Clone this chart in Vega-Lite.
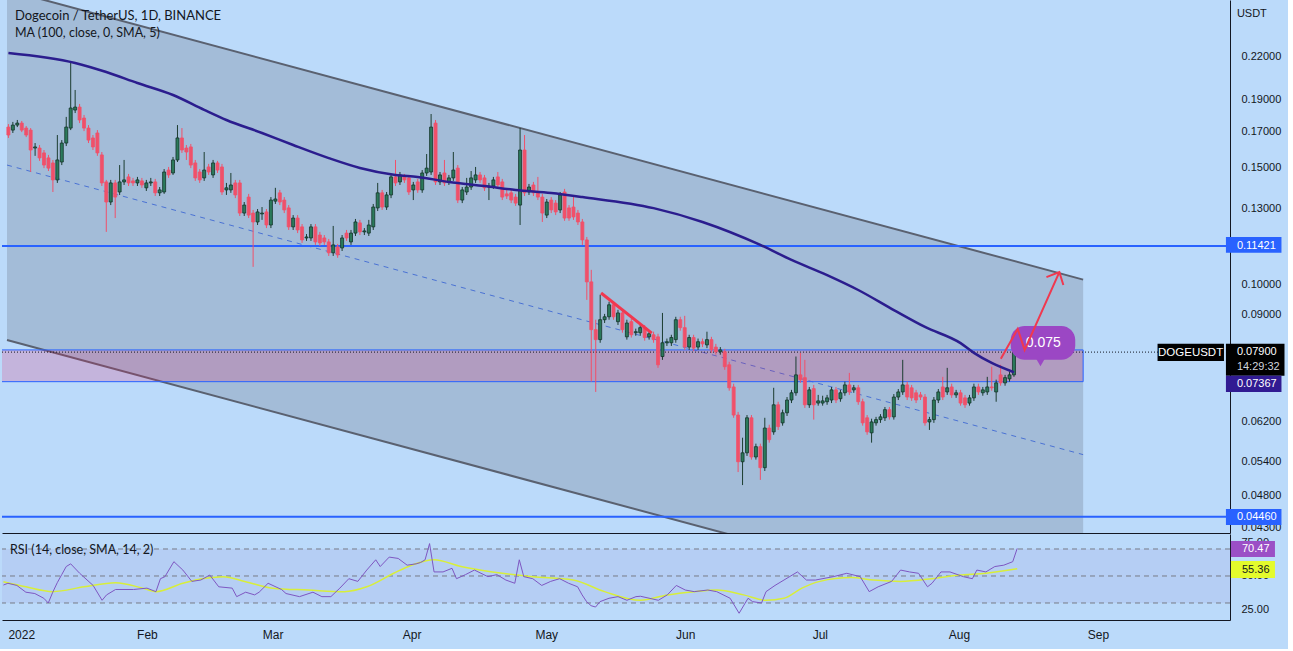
{
  "$schema": "https://vega.github.io/schema/vega-lite/v6.json",
  "background": "#bbdafa",
  "padding": {"left": 0, "top": 0, "right": 3, "bottom": 9},
  "spacing": 1,
  "config": {
    "view": {"stroke": null},
    "font": "Liberation Sans",
    "axis": {"grid": false, "ticks": false, "title": null, "domainColor": "#131722", "domainWidth": 1, "labelColor": "#131722", "labelFont": "Liberation Sans", "labelFontSize": 11, "labelOverlap": false}
  },
  "datasets": {
    "candles": [
      {"date":"2021-12-31","open":0.1725,"high":0.1743,"low":0.1661,"close":0.1678},
      {"date":"2022-01-01","open":0.1707,"high":0.1756,"low":0.1690,"close":0.1737},
      {"date":"2022-01-02","open":0.1737,"high":0.1768,"low":0.1725,"close":0.1749},
      {"date":"2022-01-03","open":0.1749,"high":0.1762,"low":0.1695,"close":0.1707},
      {"date":"2022-01-04","open":0.1719,"high":0.1731,"low":0.1666,"close":0.1678},
      {"date":"2022-01-05","open":0.1707,"high":0.1719,"low":0.1476,"close":0.1593},
      {"date":"2022-01-06","open":0.1604,"high":0.1632,"low":0.1561,"close":0.1610},
      {"date":"2022-01-07","open":0.1604,"high":0.1621,"low":0.1534,"close":0.1550},
      {"date":"2022-01-08","open":0.1577,"high":0.1593,"low":0.1496,"close":0.1512},
      {"date":"2022-01-09","open":0.1550,"high":0.1566,"low":0.1481,"close":0.1496},
      {"date":"2022-01-10","open":0.1523,"high":0.1539,"low":0.1377,"close":0.1436},
      {"date":"2022-01-11","open":0.1436,"high":0.1678,"low":0.1421,"close":0.1539},
      {"date":"2022-01-12","open":0.1528,"high":0.1649,"low":0.1512,"close":0.1632},
      {"date":"2022-01-13","open":0.1632,"high":0.1787,"low":0.1615,"close":0.1725},
      {"date":"2022-01-14","open":0.1719,"high":0.2155,"low":0.1707,"close":0.1843},
      {"date":"2022-01-15","open":0.1830,"high":0.1962,"low":0.1811,"close":0.1849},
      {"date":"2022-01-16","open":0.1849,"high":0.1869,"low":0.1749,"close":0.1768},
      {"date":"2022-01-17","open":0.1780,"high":0.1799,"low":0.1701,"close":0.1719},
      {"date":"2022-01-18","open":0.1719,"high":0.1737,"low":0.1632,"close":0.1649},
      {"date":"2022-01-19","open":0.1661,"high":0.1678,"low":0.1593,"close":0.1610},
      {"date":"2022-01-20","open":0.1690,"high":0.1707,"low":0.1561,"close":0.1577},
      {"date":"2022-01-21","open":0.1566,"high":0.1582,"low":0.1406,"close":0.1421},
      {"date":"2022-01-22","open":0.1426,"high":0.1436,"low":0.1199,"close":0.1330},
      {"date":"2022-01-23","open":0.1330,"high":0.1436,"low":0.1316,"close":0.1421},
      {"date":"2022-01-24","open":0.1421,"high":0.1436,"low":0.1258,"close":0.1353},
      {"date":"2022-01-25","open":0.1377,"high":0.1512,"low":0.1363,"close":0.1426},
      {"date":"2022-01-26","open":0.1426,"high":0.1539,"low":0.1411,"close":0.1436},
      {"date":"2022-01-27","open":0.1451,"high":0.1466,"low":0.1406,"close":0.1421},
      {"date":"2022-01-28","open":0.1431,"high":0.1446,"low":0.1406,"close":0.1421},
      {"date":"2022-01-29","open":0.1421,"high":0.1451,"low":0.1406,"close":0.1436},
      {"date":"2022-01-30","open":0.1431,"high":0.1446,"low":0.1397,"close":0.1411},
      {"date":"2022-01-31","open":0.1397,"high":0.1436,"low":0.1382,"close":0.1421},
      {"date":"2022-02-01","open":0.1421,"high":0.1446,"low":0.1406,"close":0.1426},
      {"date":"2022-02-02","open":0.1426,"high":0.1441,"low":0.1358,"close":0.1373},
      {"date":"2022-02-03","open":0.1373,"high":0.1401,"low":0.1358,"close":0.1387},
      {"date":"2022-02-04","open":0.1377,"high":0.1491,"low":0.1368,"close":0.1476},
      {"date":"2022-02-05","open":0.1486,"high":0.1502,"low":0.1446,"close":0.1461},
      {"date":"2022-02-06","open":0.1471,"high":0.1555,"low":0.1461,"close":0.1539},
      {"date":"2022-02-07","open":0.1539,"high":0.1737,"low":0.1528,"close":0.1661},
      {"date":"2022-02-08","open":0.1661,"high":0.1719,"low":0.1577,"close":0.1593},
      {"date":"2022-02-09","open":0.1604,"high":0.1621,"low":0.1539,"close":0.1582},
      {"date":"2022-02-10","open":0.1610,"high":0.1627,"low":0.1496,"close":0.1512},
      {"date":"2022-02-11","open":0.1523,"high":0.1539,"low":0.1431,"close":0.1446},
      {"date":"2022-02-12","open":0.1476,"high":0.1491,"low":0.1421,"close":0.1436},
      {"date":"2022-02-13","open":0.1446,"high":0.1582,"low":0.1431,"close":0.1486},
      {"date":"2022-02-14","open":0.1502,"high":0.1518,"low":0.1461,"close":0.1476},
      {"date":"2022-02-15","open":0.1461,"high":0.1539,"low":0.1446,"close":0.1523},
      {"date":"2022-02-16","open":0.1523,"high":0.1534,"low":0.1471,"close":0.1486},
      {"date":"2022-02-17","open":0.1502,"high":0.1518,"low":0.1363,"close":0.1377},
      {"date":"2022-02-18","open":0.1387,"high":0.1421,"low":0.1363,"close":0.1397},
      {"date":"2022-02-19","open":0.1387,"high":0.1471,"low":0.1373,"close":0.1411},
      {"date":"2022-02-20","open":0.1421,"high":0.1436,"low":0.1348,"close":0.1363},
      {"date":"2022-02-21","open":0.1421,"high":0.1436,"low":0.1267,"close":0.1280},
      {"date":"2022-02-22","open":0.1280,"high":0.1330,"low":0.1267,"close":0.1316},
      {"date":"2022-02-23","open":0.1353,"high":0.1368,"low":0.1258,"close":0.1271},
      {"date":"2022-02-24","open":0.1280,"high":0.1294,"low":0.1062,"close":0.1241},
      {"date":"2022-02-25","open":0.1241,"high":0.1298,"low":0.1228,"close":0.1285},
      {"date":"2022-02-26","open":0.1276,"high":0.1307,"low":0.1250,"close":0.1280},
      {"date":"2022-02-27","open":0.1285,"high":0.1298,"low":0.1215,"close":0.1228},
      {"date":"2022-02-28","open":0.1228,"high":0.1353,"low":0.1215,"close":0.1339},
      {"date":"2022-03-01","open":0.1334,"high":0.1397,"low":0.1321,"close":0.1344},
      {"date":"2022-03-02","open":0.1373,"high":0.1387,"low":0.1316,"close":0.1330},
      {"date":"2022-03-03","open":0.1339,"high":0.1353,"low":0.1280,"close":0.1294},
      {"date":"2022-03-04","open":0.1303,"high":0.1316,"low":0.1207,"close":0.1220},
      {"date":"2022-03-05","open":0.1220,"high":0.1271,"low":0.1207,"close":0.1258},
      {"date":"2022-03-06","open":0.1258,"high":0.1271,"low":0.1194,"close":0.1207},
      {"date":"2022-03-07","open":0.1220,"high":0.1232,"low":0.1154,"close":0.1166},
      {"date":"2022-03-08","open":0.1174,"high":0.1190,"low":0.1162,"close":0.1178},
      {"date":"2022-03-09","open":0.1174,"high":0.1232,"low":0.1162,"close":0.1220},
      {"date":"2022-03-10","open":0.1220,"high":0.1232,"low":0.1146,"close":0.1158},
      {"date":"2022-03-11","open":0.1186,"high":0.1199,"low":0.1142,"close":0.1154},
      {"date":"2022-03-12","open":0.1174,"high":0.1186,"low":0.1146,"close":0.1158},
      {"date":"2022-03-13","open":0.1158,"high":0.1170,"low":0.1103,"close":0.1115},
      {"date":"2022-03-14","open":0.1115,"high":0.1224,"low":0.1103,"close":0.1146},
      {"date":"2022-03-15","open":0.1138,"high":0.1150,"low":0.1096,"close":0.1107},
      {"date":"2022-03-16","open":0.1134,"high":0.1186,"low":0.1122,"close":0.1174},
      {"date":"2022-03-17","open":0.1194,"high":0.1207,"low":0.1162,"close":0.1174},
      {"date":"2022-03-18","open":0.1158,"high":0.1207,"low":0.1146,"close":0.1194},
      {"date":"2022-03-19","open":0.1194,"high":0.1254,"low":0.1182,"close":0.1241},
      {"date":"2022-03-20","open":0.1237,"high":0.1250,"low":0.1186,"close":0.1199},
      {"date":"2022-03-21","open":0.1199,"high":0.1215,"low":0.1186,"close":0.1203},
      {"date":"2022-03-22","open":0.1194,"high":0.1250,"low":0.1182,"close":0.1228},
      {"date":"2022-03-23","open":0.1220,"high":0.1321,"low":0.1207,"close":0.1307},
      {"date":"2022-03-24","open":0.1303,"high":0.1421,"low":0.1289,"close":0.1373},
      {"date":"2022-03-25","open":0.1373,"high":0.1387,"low":0.1294,"close":0.1307},
      {"date":"2022-03-26","open":0.1307,"high":0.1377,"low":0.1294,"close":0.1363},
      {"date":"2022-03-27","open":0.1363,"high":0.1466,"low":0.1348,"close":0.1451},
      {"date":"2022-03-28","open":0.1451,"high":0.1539,"low":0.1406,"close":0.1421},
      {"date":"2022-03-29","open":0.1426,"high":0.1476,"low":0.1411,"close":0.1461},
      {"date":"2022-03-30","open":0.1451,"high":0.1466,"low":0.1421,"close":0.1436},
      {"date":"2022-03-31","open":0.1446,"high":0.1461,"low":0.1363,"close":0.1377},
      {"date":"2022-04-01","open":0.1387,"high":0.1426,"low":0.1339,"close":0.1411},
      {"date":"2022-04-02","open":0.1426,"high":0.1441,"low":0.1373,"close":0.1387},
      {"date":"2022-04-03","open":0.1387,"high":0.1486,"low":0.1373,"close":0.1471},
      {"date":"2022-04-04","open":0.1471,"high":0.1571,"low":0.1456,"close":0.1496},
      {"date":"2022-04-05","open":0.1476,"high":0.1805,"low":0.1461,"close":0.1725},
      {"date":"2022-04-06","open":0.1749,"high":0.1768,"low":0.1411,"close":0.1426},
      {"date":"2022-04-07","open":0.1426,"high":0.1476,"low":0.1411,"close":0.1461},
      {"date":"2022-04-08","open":0.1471,"high":0.1539,"low":0.1406,"close":0.1421},
      {"date":"2022-04-09","open":0.1426,"high":0.1461,"low":0.1411,"close":0.1446},
      {"date":"2022-04-10","open":0.1446,"high":0.1582,"low":0.1431,"close":0.1486},
      {"date":"2022-04-11","open":0.1496,"high":0.1512,"low":0.1325,"close":0.1339},
      {"date":"2022-04-12","open":0.1339,"high":0.1401,"low":0.1325,"close":0.1387},
      {"date":"2022-04-13","open":0.1377,"high":0.1446,"low":0.1363,"close":0.1401},
      {"date":"2022-04-14","open":0.1401,"high":0.1481,"low":0.1387,"close":0.1446},
      {"date":"2022-04-15","open":0.1436,"high":0.1502,"low":0.1421,"close":0.1461},
      {"date":"2022-04-16","open":0.1461,"high":0.1476,"low":0.1421,"close":0.1436},
      {"date":"2022-04-17","open":0.1446,"high":0.1461,"low":0.1382,"close":0.1397},
      {"date":"2022-04-18","open":0.1401,"high":0.1421,"low":0.1339,"close":0.1406},
      {"date":"2022-04-19","open":0.1406,"high":0.1451,"low":0.1392,"close":0.1436},
      {"date":"2022-04-20","open":0.1451,"high":0.1476,"low":0.1397,"close":0.1411},
      {"date":"2022-04-21","open":0.1426,"high":0.1441,"low":0.1339,"close":0.1353},
      {"date":"2022-04-22","open":0.1368,"high":0.1387,"low":0.1344,"close":0.1358},
      {"date":"2022-04-23","open":0.1373,"high":0.1387,"low":0.1325,"close":0.1339},
      {"date":"2022-04-24","open":0.1353,"high":0.1368,"low":0.1312,"close":0.1325},
      {"date":"2022-04-25","open":0.1316,"high":0.1719,"low":0.1228,"close":0.1593},
      {"date":"2022-04-26","open":0.1593,"high":0.1678,"low":0.1358,"close":0.1373},
      {"date":"2022-04-27","open":0.1377,"high":0.1416,"low":0.1363,"close":0.1401},
      {"date":"2022-04-28","open":0.1411,"high":0.1426,"low":0.1358,"close":0.1373},
      {"date":"2022-04-29","open":0.1377,"high":0.1451,"low":0.1339,"close":0.1353},
      {"date":"2022-04-30","open":0.1353,"high":0.1368,"low":0.1241,"close":0.1280},
      {"date":"2022-05-01","open":0.1271,"high":0.1344,"low":0.1258,"close":0.1330},
      {"date":"2022-05-02","open":0.1339,"high":0.1353,"low":0.1280,"close":0.1294},
      {"date":"2022-05-03","open":0.1325,"high":0.1339,"low":0.1271,"close":0.1285},
      {"date":"2022-05-04","open":0.1294,"high":0.1377,"low":0.1280,"close":0.1363},
      {"date":"2022-05-05","open":0.1377,"high":0.1392,"low":0.1246,"close":0.1258},
      {"date":"2022-05-06","open":0.1303,"high":0.1316,"low":0.1246,"close":0.1258},
      {"date":"2022-05-07","open":0.1307,"high":0.1353,"low":0.1250,"close":0.1263},
      {"date":"2022-05-08","open":0.1280,"high":0.1294,"low":0.1228,"close":0.1241},
      {"date":"2022-05-09","open":0.1241,"high":0.1254,"low":0.1146,"close":0.1166},
      {"date":"2022-05-10","open":0.1166,"high":0.1178,"low":0.0947,"close":0.1008},
      {"date":"2022-05-11","open":0.1008,"high":0.1051,"low":0.0713,"close":0.0854},
      {"date":"2022-05-12","open":0.0854,"high":0.0884,"low":0.0688,"close":0.0825},
      {"date":"2022-05-13","open":0.0825,"high":0.0964,"low":0.0816,"close":0.0884},
      {"date":"2022-05-14","open":0.0884,"high":0.0902,"low":0.0874,"close":0.0893},
      {"date":"2022-05-15","open":0.0893,"high":0.0941,"low":0.0884,"close":0.0931},
      {"date":"2022-05-16","open":0.0931,"high":0.0941,"low":0.0884,"close":0.0893},
      {"date":"2022-05-17","open":0.0878,"high":0.0915,"low":0.0868,"close":0.0905},
      {"date":"2022-05-18","open":0.0905,"high":0.0915,"low":0.0845,"close":0.0854},
      {"date":"2022-05-19","open":0.0833,"high":0.0884,"low":0.0825,"close":0.0874},
      {"date":"2022-05-20","open":0.0878,"high":0.0887,"low":0.0831,"close":0.0839},
      {"date":"2022-05-21","open":0.0845,"high":0.0857,"low":0.0836,"close":0.0848},
      {"date":"2022-05-22","open":0.0845,"high":0.0868,"low":0.0836,"close":0.0860},
      {"date":"2022-05-23","open":0.0860,"high":0.0868,"low":0.0822,"close":0.0831},
      {"date":"2022-05-24","open":0.0833,"high":0.0851,"low":0.0825,"close":0.0842},
      {"date":"2022-05-25","open":0.0839,"high":0.0848,"low":0.0816,"close":0.0825},
      {"date":"2022-05-26","open":0.0833,"high":0.0842,"low":0.0748,"close":0.0756},
      {"date":"2022-05-27","open":0.0778,"high":0.0905,"low":0.0769,"close":0.0816},
      {"date":"2022-05-28","open":0.0816,"high":0.0828,"low":0.0807,"close":0.0819},
      {"date":"2022-05-29","open":0.0816,"high":0.0839,"low":0.0807,"close":0.0831},
      {"date":"2022-05-30","open":0.0825,"high":0.0893,"low":0.0816,"close":0.0884},
      {"date":"2022-05-31","open":0.0884,"high":0.0893,"low":0.0851,"close":0.0860},
      {"date":"2022-06-01","open":0.0860,"high":0.0896,"low":0.0796,"close":0.0804},
      {"date":"2022-06-02","open":0.0804,"high":0.0839,"low":0.0796,"close":0.0831},
      {"date":"2022-06-03","open":0.0831,"high":0.0839,"low":0.0793,"close":0.0801},
      {"date":"2022-06-04","open":0.0804,"high":0.0828,"low":0.0796,"close":0.0819},
      {"date":"2022-06-05","open":0.0819,"high":0.0828,"low":0.0804,"close":0.0813},
      {"date":"2022-06-06","open":0.0810,"high":0.0848,"low":0.0801,"close":0.0825},
      {"date":"2022-06-07","open":0.0825,"high":0.0833,"low":0.0788,"close":0.0796},
      {"date":"2022-06-08","open":0.0804,"high":0.0813,"low":0.0783,"close":0.0791},
      {"date":"2022-06-09","open":0.0791,"high":0.0804,"low":0.0783,"close":0.0796},
      {"date":"2022-06-10","open":0.0791,"high":0.0799,"low":0.0743,"close":0.0751},
      {"date":"2022-06-11","open":0.0756,"high":0.0764,"low":0.0691,"close":0.0698},
      {"date":"2022-06-12","open":0.0700,"high":0.0708,"low":0.0629,"close":0.0635},
      {"date":"2022-06-13","open":0.0635,"high":0.0642,"low":0.0521,"close":0.0540},
      {"date":"2022-06-14","open":0.0540,"high":0.0587,"low":0.0498,"close":0.0557},
      {"date":"2022-06-15","open":0.0557,"high":0.0635,"low":0.0551,"close":0.0629},
      {"date":"2022-06-16","open":0.0629,"high":0.0635,"low":0.0544,"close":0.0549},
      {"date":"2022-06-17","open":0.0549,"high":0.0575,"low":0.0544,"close":0.0569},
      {"date":"2022-06-18","open":0.0569,"high":0.0575,"low":0.0507,"close":0.0529},
      {"date":"2022-06-19","open":0.0529,"high":0.0629,"low":0.0523,"close":0.0607},
      {"date":"2022-06-20","open":0.0607,"high":0.0614,"low":0.0577,"close":0.0583},
      {"date":"2022-06-21","open":0.0599,"high":0.0698,"low":0.0593,"close":0.0658},
      {"date":"2022-06-22","open":0.0658,"high":0.0665,"low":0.0603,"close":0.0610},
      {"date":"2022-06-23","open":0.0618,"high":0.0647,"low":0.0612,"close":0.0640},
      {"date":"2022-06-24","open":0.0640,"high":0.0676,"low":0.0633,"close":0.0669},
      {"date":"2022-06-25","open":0.0669,"high":0.0693,"low":0.0662,"close":0.0686},
      {"date":"2022-06-26","open":0.0686,"high":0.0778,"low":0.0679,"close":0.0730},
      {"date":"2022-06-27","open":0.0730,"high":0.0788,"low":0.0710,"close":0.0718},
      {"date":"2022-06-28","open":0.0723,"high":0.0769,"low":0.0651,"close":0.0658},
      {"date":"2022-06-29","open":0.0658,"high":0.0700,"low":0.0651,"close":0.0693},
      {"date":"2022-06-30","open":0.0696,"high":0.0705,"low":0.0625,"close":0.0658},
      {"date":"2022-07-01","open":0.0662,"high":0.0681,"low":0.0656,"close":0.0667},
      {"date":"2022-07-02","open":0.0662,"high":0.0679,"low":0.0656,"close":0.0667},
      {"date":"2022-07-03","open":0.0665,"high":0.0681,"low":0.0658,"close":0.0674},
      {"date":"2022-07-04","open":0.0669,"high":0.0700,"low":0.0662,"close":0.0693},
      {"date":"2022-07-05","open":0.0693,"high":0.0700,"low":0.0662,"close":0.0669},
      {"date":"2022-07-06","open":0.0672,"high":0.0693,"low":0.0665,"close":0.0686},
      {"date":"2022-07-07","open":0.0686,"high":0.0713,"low":0.0679,"close":0.0705},
      {"date":"2022-07-08","open":0.0705,"high":0.0735,"low":0.0681,"close":0.0688},
      {"date":"2022-07-09","open":0.0693,"high":0.0705,"low":0.0686,"close":0.0698},
      {"date":"2022-07-10","open":0.0698,"high":0.0705,"low":0.0658,"close":0.0665},
      {"date":"2022-07-11","open":0.0665,"high":0.0672,"low":0.0612,"close":0.0618},
      {"date":"2022-07-12","open":0.0629,"high":0.0635,"low":0.0593,"close":0.0599},
      {"date":"2022-07-13","open":0.0597,"high":0.0627,"low":0.0577,"close":0.0620},
      {"date":"2022-07-14","open":0.0618,"high":0.0631,"low":0.0612,"close":0.0625},
      {"date":"2022-07-15","open":0.0625,"high":0.0637,"low":0.0618,"close":0.0631},
      {"date":"2022-07-16","open":0.0629,"high":0.0653,"low":0.0622,"close":0.0647},
      {"date":"2022-07-17","open":0.0647,"high":0.0653,"low":0.0625,"close":0.0631},
      {"date":"2022-07-18","open":0.0631,"high":0.0683,"low":0.0625,"close":0.0676},
      {"date":"2022-07-19","open":0.0676,"high":0.0695,"low":0.0669,"close":0.0688},
      {"date":"2022-07-20","open":0.0688,"high":0.0769,"low":0.0681,"close":0.0705},
      {"date":"2022-07-21","open":0.0705,"high":0.0713,"low":0.0669,"close":0.0676},
      {"date":"2022-07-22","open":0.0698,"high":0.0705,"low":0.0667,"close":0.0674},
      {"date":"2022-07-23","open":0.0686,"high":0.0693,"low":0.0662,"close":0.0669},
      {"date":"2022-07-24","open":0.0681,"high":0.0688,"low":0.0669,"close":0.0676},
      {"date":"2022-07-25","open":0.0676,"high":0.0683,"low":0.0612,"close":0.0618},
      {"date":"2022-07-26","open":0.0620,"high":0.0631,"low":0.0603,"close":0.0625},
      {"date":"2022-07-27","open":0.0625,"high":0.0676,"low":0.0618,"close":0.0669},
      {"date":"2022-07-28","open":0.0669,"high":0.0695,"low":0.0662,"close":0.0688},
      {"date":"2022-07-29","open":0.0700,"high":0.0725,"low":0.0669,"close":0.0676},
      {"date":"2022-07-30","open":0.0688,"high":0.0748,"low":0.0681,"close":0.0698},
      {"date":"2022-07-31","open":0.0700,"high":0.0708,"low":0.0674,"close":0.0681},
      {"date":"2022-08-01","open":0.0681,"high":0.0693,"low":0.0674,"close":0.0686},
      {"date":"2022-08-02","open":0.0686,"high":0.0693,"low":0.0656,"close":0.0662},
      {"date":"2022-08-03","open":0.0674,"high":0.0681,"low":0.0651,"close":0.0658},
      {"date":"2022-08-04","open":0.0662,"high":0.0681,"low":0.0656,"close":0.0674},
      {"date":"2022-08-05","open":0.0674,"high":0.0708,"low":0.0667,"close":0.0700},
      {"date":"2022-08-06","open":0.0700,"high":0.0708,"low":0.0681,"close":0.0688},
      {"date":"2022-08-07","open":0.0686,"high":0.0700,"low":0.0679,"close":0.0693},
      {"date":"2022-08-08","open":0.0688,"high":0.0725,"low":0.0681,"close":0.0700},
      {"date":"2022-08-09","open":0.0700,"high":0.0751,"low":0.0691,"close":0.0698},
      {"date":"2022-08-10","open":0.0688,"high":0.0718,"low":0.0665,"close":0.0710},
      {"date":"2022-08-11","open":0.0730,"high":0.0756,"low":0.0703,"close":0.0710},
      {"date":"2022-08-12","open":0.0710,"high":0.0730,"low":0.0703,"close":0.0723},
      {"date":"2022-08-13","open":0.0720,"high":0.0738,"low":0.0713,"close":0.0730},
      {"date":"2022-08-14","open":0.0730,"high":0.0804,"low":0.0725,"close":0.0790}
    ],
    "ma": [
      {"date":"2021-12-31","ma":0.2231},{"date":"2022-01-15","ma":0.2155},{"date":"2022-01-22","ma":0.2088},
      {"date":"2022-01-29","ma":0.2010},{"date":"2022-02-06","ma":0.1928},{"date":"2022-02-13","ma":0.1831},
      {"date":"2022-02-18","ma":0.1768},{"date":"2022-02-26","ma":0.1690},{"date":"2022-03-05","ma":0.1621},
      {"date":"2022-03-13","ma":0.1549},{"date":"2022-03-20","ma":0.1497},{"date":"2022-03-28","ma":0.1461},
      {"date":"2022-04-02","ma":0.1451},{"date":"2022-04-09","ma":0.1426},{"date":"2022-04-17","ma":0.1406},
      {"date":"2022-04-24","ma":0.1387},{"date":"2022-05-02","ma":0.1372},{"date":"2022-05-09","ma":0.1353},
      {"date":"2022-05-25","ma":0.1302},{"date":"2022-06-05","ma":0.1241},{"date":"2022-06-18","ma":0.1146},
      {"date":"2022-06-25","ma":0.1088},{"date":"2022-07-03","ma":0.1032},{"date":"2022-07-10","ma":0.0980},
      {"date":"2022-07-18","ma":0.0914},{"date":"2022-07-25","ma":0.0862},{"date":"2022-08-02","ma":0.0815},
      {"date":"2022-08-05","ma":0.0788},{"date":"2022-08-09","ma":0.0761},{"date":"2022-08-14","ma":0.07367}
    ],
    "channelFill": [
      {"date":"2021-12-30T16:26:00Z","upper":0.2776,"lower":0.0824},
      {"date":"2022-08-29T13:12:00Z","upper":0.1016,"lower":0.03015}
    ],
    "channel": [
      {"line":"upper","date":"2021-12-30T16:26:00Z","price":0.2776},
      {"line":"upper","date":"2022-08-29T13:12:00Z","price":0.1016},
      {"line":"lower","date":"2021-12-30T16:26:00Z","price":0.0824},
      {"line":"lower","date":"2022-08-29T13:12:00Z","price":0.03015},
      {"line":"middle","date":"2021-12-30T16:26:00Z","price":0.1512},
      {"line":"middle","date":"2022-08-29T13:12:00Z","price":0.05535}
    ],
    "zone": [
      {"start":"2021-12-29T00:00:00Z","end":"2022-08-29T13:12:00Z","top":0.0796,"bottom":0.0713}
    ],
    "levels": [{"level":0.11421},{"level":0.0446}],
    "lastPrice": [{"price":0.079}],
    "drawings": [
      {"seg":"trend","pt":1,"date":"2022-05-13T04:48:00Z","price":0.0970},
      {"seg":"trend","pt":2,"date":"2022-05-24T14:24:00Z","price":0.0844},
      {"seg":"zigzag","pt":1,"date":"2022-08-11T01:12:00Z","price":0.0772},
      {"seg":"zigzag","pt":2,"date":"2022-08-14T20:10:00Z","price":0.0856},
      {"seg":"zigzag","pt":3,"date":"2022-08-16T09:36:00Z","price":0.0796},
      {"seg":"zigzag","pt":4,"date":"2022-08-24T04:48:00Z","price":0.1043},
      {"seg":"head","pt":1,"date":"2022-08-21T07:12:00Z","price":0.1025},
      {"seg":"head","pt":2,"date":"2022-08-24T04:48:00Z","price":0.1043},
      {"seg":"head","pt":3,"date":"2022-08-25T02:24:00Z","price":0.0997}
    ],
    "callout": [
      {"start":"2022-08-13T06:28:00Z","end":"2022-08-27T18:30:00Z","top":0.0865,"bottom":0.0769,"tipDate":"2022-08-19T23:00:00Z","tipPrice":0.0762,"textDate":"2022-08-20T14:24:00Z","textPrice":0.0816,"label":"0.075"}
    ],
    "titles": [
      {"label":"Dogecoin / TetherUS, 1D, BINANCE","date":"2022-01-01T11:14:00Z","price":0.2536,"row":"main"},
      {"label":"MA (100, close, 0, SMA, 5)","date":"2022-01-01T11:14:00Z","price":0.2391,"row":"sub"}
    ],
    "axisBoxes": [
      {"kind":"level","start":"2022-09-30T15:22:00Z","end":"2022-10-13T02:53:00Z","top":0.1178,"bottom":0.1115},
      {"kind":"level","start":"2022-09-30T15:22:00Z","end":"2022-10-13T02:53:00Z","top":0.04583,"bottom":0.04336},
      {"kind":"last","start":"2022-09-30T15:22:00Z","end":"2022-10-13T19:12:00Z","top":0.0813,"bottom":0.0728},
      {"kind":"ma","start":"2022-09-30T15:22:00Z","end":"2022-10-13T02:53:00Z","top":0.0728,"bottom":0.0688},
      {"kind":"last","start":"2022-09-15T06:29:00Z","end":"2022-09-30T04:48:00Z","top":0.0813,"bottom":0.0766}
    ],
    "axisTexts": [
      {"label":"0.11421","date":"2022-10-03T02:24:00Z","price":0.11421,"tone":"light"},
      {"label":"0.04460","date":"2022-10-03T02:24:00Z","price":0.0446,"tone":"light"},
      {"label":"0.07900","date":"2022-10-03T02:24:00Z","price":0.0790,"tone":"light"},
      {"label":"14:29:32","date":"2022-10-03T02:24:00Z","price":0.0751,"tone":"dim"},
      {"label":"0.07367","date":"2022-10-03T02:24:00Z","price":0.0708,"tone":"light"},
      {"label":"USDT","date":"2022-10-03T02:24:00Z","price":0.2554,"tone":"dark"}
    ],
    "symbolLabel": [{"label":"DOGEUSDT","date":"2022-09-22T16:48:00Z","price":0.0788}],
    "rsi": [
      {"date":"2021-12-31","rsi":43.3},{"date":"2022-01-01","rsi":44.6},{"date":"2022-01-03","rsi":43},
      {"date":"2022-01-05","rsi":38},{"date":"2022-01-07","rsi":37},{"date":"2022-01-09","rsi":33.5},
      {"date":"2022-01-10","rsi":30},{"date":"2022-01-11","rsi":38},{"date":"2022-01-12","rsi":45},
      {"date":"2022-01-13","rsi":51},{"date":"2022-01-14","rsi":57},{"date":"2022-01-15","rsi":59},
      {"date":"2022-01-17","rsi":52},{"date":"2022-01-20","rsi":43},{"date":"2022-01-22","rsi":32},
      {"date":"2022-01-23","rsi":36},{"date":"2022-01-25","rsi":40},{"date":"2022-01-29","rsi":40},
      {"date":"2022-02-01","rsi":41},{"date":"2022-02-03","rsi":38.4},{"date":"2022-02-04","rsi":48},
      {"date":"2022-02-05","rsi":49.5},{"date":"2022-02-07","rsi":60.6},{"date":"2022-02-09","rsi":54.4},
      {"date":"2022-02-11","rsi":46},{"date":"2022-02-13","rsi":47},{"date":"2022-02-15","rsi":50.7},
      {"date":"2022-02-17","rsi":42},{"date":"2022-02-20","rsi":41},{"date":"2022-02-21","rsi":34.7},
      {"date":"2022-02-23","rsi":38},{"date":"2022-02-25","rsi":36},{"date":"2022-02-26","rsi":38},
      {"date":"2022-02-28","rsi":44.6},{"date":"2022-03-03","rsi":40},{"date":"2022-03-04","rsi":37},
      {"date":"2022-03-07","rsi":34.7},{"date":"2022-03-10","rsi":38},{"date":"2022-03-12","rsi":34.7},
      {"date":"2022-03-14","rsi":34.7},{"date":"2022-03-16","rsi":41},{"date":"2022-03-18","rsi":48},
      {"date":"2022-03-20","rsi":46},{"date":"2022-03-22","rsi":54.4},{"date":"2022-03-24","rsi":62},
      {"date":"2022-03-25","rsi":57},{"date":"2022-03-27","rsi":64},{"date":"2022-03-29","rsi":63},
      {"date":"2022-03-31","rsi":58},{"date":"2022-04-02","rsi":59},{"date":"2022-04-03","rsi":60},
      {"date":"2022-04-04","rsi":62},{"date":"2022-04-05","rsi":74},{"date":"2022-04-06","rsi":53},
      {"date":"2022-04-08","rsi":53},{"date":"2022-04-10","rsi":55.7},{"date":"2022-04-11","rsi":48},
      {"date":"2022-04-13","rsi":51},{"date":"2022-04-15","rsi":54.4},{"date":"2022-04-18","rsi":49.5},
      {"date":"2022-04-20","rsi":51},{"date":"2022-04-22","rsi":47},{"date":"2022-04-24","rsi":44.6},
      {"date":"2022-04-25","rsi":62},{"date":"2022-04-26","rsi":49.5},{"date":"2022-04-28","rsi":48},
      {"date":"2022-04-30","rsi":43},{"date":"2022-05-02","rsi":46},{"date":"2022-05-04","rsi":48},
      {"date":"2022-05-06","rsi":44.6},{"date":"2022-05-08","rsi":42},{"date":"2022-05-09","rsi":36},
      {"date":"2022-05-10","rsi":31},{"date":"2022-05-11","rsi":28},{"date":"2022-05-12","rsi":27},
      {"date":"2022-05-13","rsi":31},{"date":"2022-05-15","rsi":33.5},{"date":"2022-05-17","rsi":34.7},
      {"date":"2022-05-19","rsi":32},{"date":"2022-05-21","rsi":34.7},{"date":"2022-05-22","rsi":35},
      {"date":"2022-05-26","rsi":32},{"date":"2022-05-28","rsi":36},{"date":"2022-05-30","rsi":43},
      {"date":"2022-06-01","rsi":39.6},{"date":"2022-06-03","rsi":38.4},{"date":"2022-06-06","rsi":39.6},
      {"date":"2022-06-08","rsi":38.4},{"date":"2022-06-11","rsi":33.5},{"date":"2022-06-13","rsi":22.4},
      {"date":"2022-06-15","rsi":33.5},{"date":"2022-06-16","rsi":31},{"date":"2022-06-18","rsi":30},
      {"date":"2022-06-19","rsi":38.4},{"date":"2022-06-21","rsi":43},{"date":"2022-06-23","rsi":47},
      {"date":"2022-06-26","rsi":53},{"date":"2022-06-28","rsi":47},{"date":"2022-06-30","rsi":47},
      {"date":"2022-07-04","rsi":49.5},{"date":"2022-07-07","rsi":52},{"date":"2022-07-10","rsi":49.5},
      {"date":"2022-07-12","rsi":38.4},{"date":"2022-07-14","rsi":42},{"date":"2022-07-17","rsi":46},
      {"date":"2022-07-19","rsi":54.4},{"date":"2022-07-21","rsi":53},{"date":"2022-07-23","rsi":52},
      {"date":"2022-07-25","rsi":42},{"date":"2022-07-26","rsi":44.6},{"date":"2022-07-28","rsi":53},
      {"date":"2022-07-30","rsi":53},{"date":"2022-08-02","rsi":49.5},{"date":"2022-08-04","rsi":48},
      {"date":"2022-08-05","rsi":54.4},{"date":"2022-08-07","rsi":53},{"date":"2022-08-09","rsi":57},
      {"date":"2022-08-11","rsi":58},{"date":"2022-08-13","rsi":60.6},{"date":"2022-08-14","rsi":70.47}
    ],
    "rsiSma": [
      {"date":"2021-12-31","sma":45.8},{"date":"2022-01-05","sma":42},{"date":"2022-01-11","sma":38.4},
      {"date":"2022-01-18","sma":42},{"date":"2022-01-25","sma":45},{"date":"2022-01-31","sma":41},
      {"date":"2022-02-03","sma":38.4},{"date":"2022-02-09","sma":44.6},{"date":"2022-02-14","sma":48.3},
      {"date":"2022-02-18","sma":49.5},{"date":"2022-02-23","sma":45.8},{"date":"2022-03-01","sma":41},
      {"date":"2022-03-09","sma":39.6},{"date":"2022-03-17","sma":38.4},{"date":"2022-03-22","sma":42},
      {"date":"2022-03-28","sma":52},{"date":"2022-04-01","sma":58},{"date":"2022-04-06","sma":62},
      {"date":"2022-04-12","sma":57},{"date":"2022-04-19","sma":53},{"date":"2022-04-28","sma":49.5},
      {"date":"2022-05-07","sma":47},{"date":"2022-05-14","sma":38.4},{"date":"2022-05-22","sma":32},
      {"date":"2022-05-28","sma":36},{"date":"2022-06-03","sma":38.4},{"date":"2022-06-08","sma":39.6},
      {"date":"2022-06-14","sma":36},{"date":"2022-06-19","sma":32},{"date":"2022-06-23","sma":33.5},
      {"date":"2022-06-27","sma":41},{"date":"2022-07-01","sma":46},{"date":"2022-07-08","sma":48.8},
      {"date":"2022-07-13","sma":47},{"date":"2022-07-19","sma":46},{"date":"2022-07-26","sma":48},
      {"date":"2022-08-01","sma":50.7},{"date":"2022-08-07","sma":52},{"date":"2022-08-14","sma":55.36}
    ],
    "rsiLevels": [{"level":70},{"level":50},{"level":30}],
    "rsiBand": [{"hi":70,"lo":30}],
    "rsiBoxes": [
      {"kind":"rsi","start":"2022-09-30T15:22:00Z","end":"2022-10-10T10:48:00Z","top":75.9,"bottom":64.1},
      {"kind":"sma","start":"2022-09-30T15:22:00Z","end":"2022-10-10T10:48:00Z","top":61.1,"bottom":48.5}
    ],
    "rsiTexts": [
      {"kind":"rsi","label":"70.47","date":"2022-10-03T02:24:00Z","value":70.0},
      {"kind":"sma","label":"55.36","date":"2022-10-03T02:24:00Z","value":54.8}
    ],
    "rsiTitle": [{"label":"RSI (14, close, SMA, 14, 2)","date":"2022-01-01T11:14:00Z","value":69.6}]
  },
  "vconcat": [
    {
      "width": 1228,
      "height": 533,
      "layer": [
        {
          "data": {"name": "channelFill"},
          "mark": {"type": "area", "clip": true, "color": "#a3bcd8", "opacity": 1},
          "encoding": {
            "x": {"field": "date", "type": "temporal",
                  "scale": {"type": "utc", "domain": [{"year": 2021, "month": 12, "date": 30, "hours": 16, "minutes": 26, "utc": true}, {"year": 2022, "month": 9, "date": 30, "hours": 10, "minutes": 19, "utc": true}]},
                  "axis": {"labels": false, "domain": true, "ticks": false, "grid": false}},
            "y": {"field": "upper", "type": "quantitative",
                  "scale": {"type": "log", "domain": [0.04217, 0.2681], "nice": false, "zero": false},
                  "axis": {"orient": "right", "values": [0.22, 0.19, 0.17, 0.15, 0.13, 0.1, 0.09, 0.062, 0.054, 0.048, 0.043], "format": ".5f", "labelPadding": 11, "domain": true}},
            "y2": {"field": "lower"}
          }
        },
        {
          "data": {"name": "channel"},
          "transform": [{"filter": "datum.line !== 'middle'"}],
          "mark": {"type": "line", "clip": true, "color": "#5a6170", "strokeWidth": 2},
          "encoding": {"x": {"field": "date", "type": "temporal"}, "y": {"field": "price", "type": "quantitative"}, "detail": {"field": "line"}}
        },
        {
          "data": {"name": "channel"},
          "transform": [{"filter": "datum.line === 'middle'"}],
          "mark": {"type": "line", "clip": true, "color": "#4a72d4", "strokeWidth": 1, "strokeDash": [5, 5]},
          "encoding": {"x": {"field": "date", "type": "temporal"}, "y": {"field": "price", "type": "quantitative"}}
        },
        {
          "data": {"name": "zone"},
          "mark": {"type": "rect", "clip": true, "fill": "#e91e63", "fillOpacity": 0.2, "stroke": "#2962ff", "strokeWidth": 1},
          "encoding": {"x": {"field": "start", "type": "temporal"}, "x2": {"field": "end"}, "y": {"field": "top", "type": "quantitative"}, "y2": {"field": "bottom"}}
        },
        {
          "data": {"name": "levels"},
          "mark": {"type": "rule", "color": "#2962ff", "strokeWidth": 2},
          "encoding": {"y": {"field": "level", "type": "quantitative"}}
        },
        {
          "data": {"name": "lastPrice"},
          "mark": {"type": "rule", "color": "#131722", "strokeWidth": 1, "strokeDash": [1, 2]},
          "encoding": {"y": {"field": "price", "type": "quantitative"}}
        },
        {
          "data": {"name": "candles"},
          "mark": {"type": "rule", "strokeWidth": 1},
          "encoding": {
            "x": {"field": "date", "type": "temporal"},
            "y": {"field": "low", "type": "quantitative"},
            "y2": {"field": "high"},
            "color": {"condition": {"test": "datum.close >= datum.open", "value": "#1c3d31"}, "value": "#f0506a"}
          }
        },
        {
          "data": {"name": "candles"},
          "mark": {"type": "bar", "size": 3, "strokeWidth": 0.8},
          "encoding": {
            "x": {"field": "date", "type": "temporal"},
            "y": {"field": "open", "type": "quantitative"},
            "y2": {"field": "close"},
            "fill": {"condition": {"test": "datum.close >= datum.open", "value": "#2b7a5b"}, "value": "#f0506a"},
            "stroke": {"condition": {"test": "datum.close >= datum.open", "value": "#14332a"}, "value": "#f0506a"}
          }
        },
        {
          "data": {"name": "ma"},
          "mark": {"type": "line", "color": "#2b1d8e", "strokeWidth": 2.5, "interpolate": "monotone"},
          "encoding": {"x": {"field": "date", "type": "temporal"}, "y": {"field": "ma", "type": "quantitative"}}
        },
        {
          "data": {"name": "drawings"},
          "transform": [{"filter": "datum.seg === 'trend'"}],
          "mark": {"type": "line", "color": "#f0384f", "strokeWidth": 3},
          "encoding": {"x": {"field": "date", "type": "temporal"}, "y": {"field": "price", "type": "quantitative"}, "order": {"field": "pt"}}
        },
        {
          "data": {"name": "callout"},
          "mark": {"type": "rect", "cornerRadius": 14, "fill": "#9b47c4"},
          "encoding": {"x": {"field": "start", "type": "temporal"}, "x2": {"field": "end"}, "y": {"field": "top", "type": "quantitative"}, "y2": {"field": "bottom"}}
        },
        {
          "data": {"name": "callout"},
          "mark": {"type": "point", "shape": "triangle-down", "filled": true, "size": 70, "color": "#9b47c4", "opacity": 1},
          "encoding": {"x": {"field": "tipDate", "type": "temporal"}, "y": {"field": "tipPrice", "type": "quantitative"}}
        },
        {
          "data": {"name": "callout"},
          "mark": {"type": "text", "color": "#ffffff", "fontSize": 14, "align": "center", "baseline": "middle", "font": "Liberation Sans"},
          "encoding": {"x": {"field": "textDate", "type": "temporal"}, "y": {"field": "textPrice", "type": "quantitative"}, "text": {"field": "label"}}
        },
        {
          "data": {"name": "drawings"},
          "transform": [{"filter": "datum.seg !== 'trend'"}],
          "mark": {"type": "line", "color": "#f0384f", "strokeWidth": 2},
          "encoding": {"x": {"field": "date", "type": "temporal"}, "y": {"field": "price", "type": "quantitative"}, "detail": {"field": "seg"}, "order": {"field": "pt"}}
        },
        {
          "data": {"name": "titles"},
          "mark": {"type": "text", "align": "left", "baseline": "middle", "color": "#131722", "font": "Lato"},
          "encoding": {
            "x": {"field": "date", "type": "temporal"},
            "y": {"field": "price", "type": "quantitative"},
            "text": {"field": "label"},
            "fontWeight": {"condition": {"test": "datum.row === 'main'", "value": "bold"}, "value": "normal"},
            "size": {"condition": {"test": "datum.row === 'main'", "value": 13}, "value": 12.5}
          }
        },
        {
          "data": {"name": "axisBoxes"},
          "mark": {"type": "rect", "clip": false},
          "encoding": {
            "x": {"field": "start", "type": "temporal"}, "x2": {"field": "end"},
            "y": {"field": "top", "type": "quantitative"}, "y2": {"field": "bottom"},
            "color": {"condition": [{"test": "datum.kind === 'level'", "value": "#2962ff"}, {"test": "datum.kind === 'ma'", "value": "#311b92"}], "value": "#000000"}
          }
        },
        {
          "data": {"name": "axisTexts"},
          "mark": {"type": "text", "align": "left", "baseline": "middle", "fontSize": 11, "clip": false, "font": "Liberation Sans"},
          "encoding": {
            "x": {"field": "date", "type": "temporal"},
            "y": {"field": "price", "type": "quantitative"},
            "text": {"field": "label"},
            "color": {"condition": [{"test": "datum.tone === 'light'", "value": "#ffffff"}, {"test": "datum.tone === 'dim'", "value": "#d1d4dc"}], "value": "#131722"}
          }
        },
        {
          "data": {"name": "symbolLabel"},
          "mark": {"type": "text", "align": "center", "baseline": "middle", "fontSize": 11.5, "color": "#ffffff", "font": "Liberation Sans"},
          "encoding": {"x": {"field": "date", "type": "temporal"}, "y": {"field": "price", "type": "quantitative"}, "text": {"field": "label"}}
        }
      ]
    },
    {
      "width": 1228,
      "height": 86,
      "layer": [
        {
          "data": {"name": "rsiBand"},
          "mark": {"type": "rect", "color": "#7e57c2", "opacity": 0.09},
          "encoding": {
            "y": {"field": "hi", "type": "quantitative", "scale": {"domain": [17.4, 81.1], "nice": false, "zero": false},
                  "axis": {"orient": "right", "values": [25, 50, 75], "format": ".2f", "labelPadding": 11, "domain": true}},
            "y2": {"field": "lo"}
          }
        },
        {
          "data": {"name": "rsiLevels"},
          "mark": {"type": "rule", "color": "#787b86", "strokeWidth": 1, "strokeDash": [5, 4]},
          "encoding": {"y": {"field": "level", "type": "quantitative"}}
        },
        {
          "data": {"name": "rsiSma"},
          "mark": {"type": "line", "color": "#d8ee3a", "strokeWidth": 1.5, "interpolate": "monotone"},
          "encoding": {
            "x": {"field": "date", "type": "temporal",
                  "scale": {"type": "utc", "domain": [{"year": 2021, "month": 12, "date": 30, "hours": 16, "minutes": 26, "utc": true}, {"year": 2022, "month": 9, "date": 30, "hours": 10, "minutes": 19, "utc": true}]},
                  "axis": {"values": [{"year": 2022, "month": 1, "date": 1, "utc": true}, {"year": 2022, "month": 2, "date": 1, "utc": true}, {"year": 2022, "month": 3, "date": 1, "utc": true}, {"year": 2022, "month": 4, "date": 1, "utc": true}, {"year": 2022, "month": 5, "date": 1, "utc": true}, {"year": 2022, "month": 6, "date": 1, "utc": true}, {"year": 2022, "month": 7, "date": 1, "utc": true}, {"year": 2022, "month": 8, "date": 1, "utc": true}, {"year": 2022, "month": 9, "date": 1, "utc": true}],
                           "labelExpr": "utcmonth(datum.value) == 0 ? '2022' : utcFormat(datum.value, '%b')",
                           "labelFontSize": 12, "labelPadding": 9, "labelFlush": 10, "domain": true, "ticks": false, "grid": false}},
            "y": {"field": "sma", "type": "quantitative"}
          }
        },
        {
          "data": {"name": "rsi"},
          "mark": {"type": "line", "color": "#7e57c2", "strokeWidth": 1},
          "encoding": {"x": {"field": "date", "type": "temporal"}, "y": {"field": "rsi", "type": "quantitative"}}
        },
        {
          "data": {"name": "rsiTitle"},
          "mark": {"type": "text", "align": "left", "baseline": "middle", "fontSize": 12.5, "color": "#131722", "font": "Lato"},
          "encoding": {"x": {"field": "date", "type": "temporal"}, "y": {"field": "value", "type": "quantitative"}, "text": {"field": "label"}}
        },
        {
          "data": {"name": "rsiBoxes"},
          "mark": {"type": "rect", "clip": false},
          "encoding": {
            "x": {"field": "start", "type": "temporal"}, "x2": {"field": "end"},
            "y": {"field": "top", "type": "quantitative"}, "y2": {"field": "bottom"},
            "color": {"condition": {"test": "datum.kind === 'rsi'", "value": "#9b4fc6"}, "value": "#e4fb2c"}
          }
        },
        {
          "data": {"name": "rsiTexts"},
          "mark": {"type": "text", "align": "left", "baseline": "middle", "fontSize": 11, "clip": false, "font": "Liberation Sans"},
          "encoding": {
            "x": {"field": "date", "type": "temporal"},
            "y": {"field": "value", "type": "quantitative"},
            "text": {"field": "label"},
            "color": {"condition": {"test": "datum.kind === 'rsi'", "value": "#ffffff"}, "value": "#131722"}
          }
        }
      ]
    }
  ]
}
